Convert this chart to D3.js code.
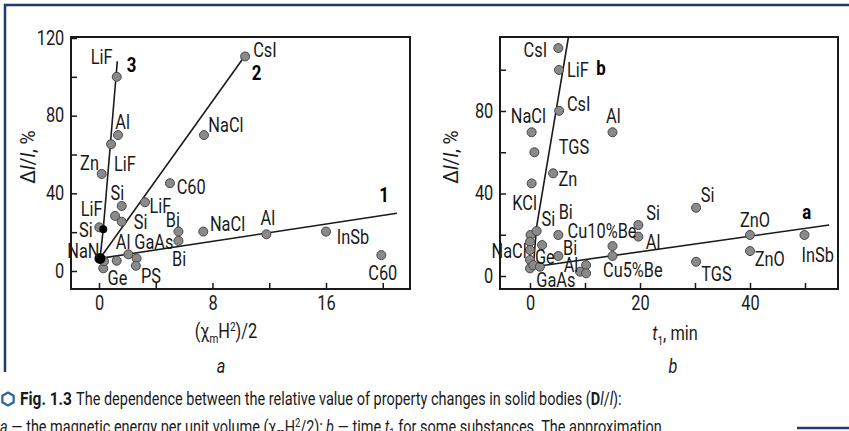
<!DOCTYPE html>
<html><head><meta charset="utf-8">
<script src="https://cdn.jsdelivr.net/npm/d3@7"></script>
<style>
html,body{margin:0;padding:0;background:#fff;}
svg{display:block;font-family:Roboto,"Liberation Sans",sans-serif;}
</style></head><body>
<svg id="c" width="849" height="431"></svg>
<script>
// ---------- panel a data ----------
const aXTicks = [0, 4, 8, 12, 16, 20];
const aXTickLabels = [0, 8, 16];
const aYTicks = [0, 20, 40, 60, 80, 100, 120];
const aYTickLabels = [0, 40, 80, 120];
const aPoints = [
  [1.25,100],[1.34,70],[0.85,65.3],[0.19,50],[10.3,110.5],[7.4,70],[5.0,45.2],
  [1.6,33.5],[3.24,35.4],[1.13,28.4],[1.6,25.4],[0.02,22.5],[5.6,20.3],[5.6,15.5],
  [7.35,20.3],[11.8,18.9],[2.07,8.6],[2.65,6.5],[1.25,5.3],[2.6,2.7],[0.3,1.4],
  [0.35,5],[16.0,20.3],[19.9,8.2]
];
const aBlackPoints = [[0.3,21.5],[0.07,6.5]];
const aLine1 = [[0.07,6.5],[21,29.7]];
const aLine2 = [[0.07,6.5],[10.2,110]];
const aLine3 = [[0.07,6.5],[0.3,21.5],[1.29,108]];
const aLabels = [
  ["LiF",0.19,110],["CsI",11.7,113.9],["Al",1.66,77],["NaCl",8.95,75.3],["Zn",-0.67,55.4],
  ["LiF",1.83,55],["Si",1.3,40.2],["C60",6.5,43.5],["LiF",-0.52,32],["LiF",4.33,33.5],
  ["Bi",5.2,26.3],["Si",2.94,25],["Si",-0.92,20.9],["NaCl",9.06,24.2],["Al",11.9,27.3],
  ["NaN",-1.1,10.3],["Al",1.7,14.7],["GaAs",3.87,15.2],["Bi",5.64,6.2],["Ge",1.3,-3.6],
  ["PS",3.66,-2.8],["InSb",17.9,17.3],["C60",20.0,-0.8]
];
const aNumbers = [["3",2.3,106.2],["2",11.1,101.9],["1",20.1,39.2]];

// ---------- panel b data ----------
const bXTicks = [0, 10, 20, 30, 40, 50];
const bXTickLabels = [0, 20, 40];
const bYTicks = [0, 20, 40, 60, 80, 100];
const bYTickLabels = [0, 40, 80];
const bPoints = [
  [5.15,110.5],[5.27,99.9],[5.3,80.1],[0.3,69.7],[15,69.7],[0.8,60],[4.2,49.8],[0.3,44.9],
  [0.1,19.9],[1.2,21.8],[0.0,16.6],[2.2,15],[0.0,12.6],[5.15,19.9],[5.15,9.7],[0.0,7.8],
  [0.0,3.7],[0.6,5.3],[1.8,4.5],[9.1,2.1],[10.2,5.3],[10.2,1.3],[15,14.5],[15,9.7],
  [19.7,24.7],[19.7,19.1],[30.2,33.1],[40,19.9],[40,12.1],[30.2,6.9],[49.9,19.9]
];
const bLineA = [[0.8,4.5],[54.4,24.7]];
const bLineB = [[0.6,4.5],[1.2,23.9],[7,116]];
const bLabels = [
  ["CsI",0.97,109.6],["LiF",8.7,99.9],["CsI",8.85,83.4],["NaCl",-0.3,77.4],["Al",15.15,77.4],
  ["TGS",8.0,62.7],["Zn",6.9,47],["KCl",-0.97,35.6],["Si",3.33,27.6],["Bi",6.5,31.2],
  ["Cu10%Be",13.1,21.8],["NaCl",-3.8,12.1],["Ge",2.7,9],["Bi",7.3,13.6],["Al",7.45,5.3],
  ["GaAs",4.7,-1.9],["Cu5%Be",18.7,2.9],["Si",32.3,39.3],["Si",22.4,30.5],["Al",22.4,16.6],
  ["ZnO",40.9,27.2],["ZnO",43.6,8.2],["InSb",52.3,10.2],["TGS",33.9,1]
];
const bNumbers = [["b",12.9,101.1],["a",50.3,31.2]];

// ---------- drawing ----------
const svg = d3.select("#c");
const INK = "#1a1a1a";
const SX = 0.84;
const FS = 19.5;
const NAVY = "#1d3b6e";

function panel(cfg){
  const g = svg.append("g");
  const x = d3.scaleLinear().domain(cfg.xd).range(cfg.xr);
  const y = d3.scaleLinear().domain(cfg.yd).range(cfg.yr);
  const f = cfg.frame;
  const ax = g.append("g").attr("transform",`translate(0,${f.b})`)
    .call(d3.axisBottom(x).tickValues(cfg.xt).tickSize(-6).tickPadding(7)
      .tickFormat(d => cfg.xl.includes(d) ? d : ""));
  const ay = g.append("g").attr("transform",`translate(${f.l},0)`)
    .call(d3.axisLeft(y).tickValues(cfg.yt).tickSize(-6).tickPadding(8)
      .tickFormat(d => cfg.yl.includes(d) ? d : ""));
  [ax, ay].forEach(a => {
    a.select(".domain").remove();
    a.selectAll(".tick line").attr("stroke",INK).attr("stroke-width",1.5);
    a.selectAll(".tick text").attr("fill",INK).attr("font-size",FS)
      .attr("font-family","Roboto").attr("transform",`scale(${SX},1)`);
  });
  g.append("rect").attr("x",f.l).attr("y",f.t).attr("width",f.r-f.l).attr("height",f.b-f.t)
    .attr("fill","none").attr("stroke",INK).attr("stroke-width",2);
  const line = d3.line().x(d=>x(d[0])).y(d=>y(d[1]));
  cfg.lines.forEach(L => g.append("path").attr("d",line(L)).attr("fill","none")
    .attr("stroke",INK).attr("stroke-width",1.6));
  g.selectAll("circle.p").data(cfg.pts).enter().append("circle")
    .attr("cx",d=>x(d[0])).attr("cy",d=>y(d[1])).attr("r",4.5)
    .attr("fill","#8a8a8a").attr("stroke","#474747").attr("stroke-width",1);
  if (cfg.black) g.selectAll("circle.b").data(cfg.black).enter().append("circle")
    .attr("cx",d=>x(d[0])).attr("cy",d=>y(d[1])).attr("r",(d,i)=>i===0?4:5.5)
    .attr("fill","#000");
  g.selectAll("text.lab").data(cfg.labels).enter().append("text")
    .attr("transform",d=>`translate(${x(d[1])},${y(d[2])}) scale(${SX},1)`)
    .attr("text-anchor","middle").attr("dy","0.36em").attr("font-size",FS)
    .attr("fill",INK).text(d=>d[0]);
  g.selectAll("text.num").data(cfg.nums).enter().append("text")
    .attr("transform",d=>`translate(${x(d[1])},${y(d[2])}) scale(${SX},1)`)
    .attr("text-anchor","middle").attr("dy","0.36em").attr("font-size",20)
    .attr("font-weight","bold").attr("fill","#000").text(d=>d[0]);
  return g;
}

panel({
  xd:[0,16], xr:[99,326], yd:[0,120], yr:[271,38],
  frame:{l:71,r:410,t:37,b:289},
  xt:aXTicks, xl:aXTickLabels, yt:aYTicks, yl:aYTickLabels,
  lines:[aLine1,aLine2,aLine3], pts:aPoints, black:aBlackPoints,
  labels:aLabels, nums:aNumbers
});
panel({
  xd:[0,40], xr:[530,750], yd:[0,80], yr:[276,111],
  frame:{l:500,r:838,t:37,b:289},
  xt:bXTicks, xl:bXTickLabels, yt:bYTicks, yl:bYTickLabels,
  lines:[bLineA,bLineB], pts:bPoints, black:null,
  labels:bLabels, nums:bNumbers
});

function yTitle(cx, cy){
  const t = svg.append("text").attr("transform",`translate(${cx},${cy}) rotate(-90) scale(0.92,1)`)
    .attr("text-anchor","middle").attr("dy","0.36em").attr("font-size",21).attr("fill",INK);
  t.append("tspan").text("Δ");
  t.append("tspan").attr("font-style","italic").text("l");
  t.append("tspan").text("/");
  t.append("tspan").attr("font-style","italic").text("l");
  t.append("tspan").text(", %");
}
yTitle(27,157);
yTitle(450,157);

const xa = svg.append("text").attr("transform",`translate(226,331) scale(${SX},1)`)
  .attr("text-anchor","middle").attr("dy","0.36em").attr("font-size",FS).attr("fill",INK);
xa.append("tspan").text("(χ");
xa.append("tspan").attr("font-size",12).attr("dy","5").text("m");
xa.append("tspan").attr("dy","-5").text("H");
xa.append("tspan").attr("font-size",12).attr("dy","-7").text("2");
xa.append("tspan").attr("dy","7").text(")/2");

const xb = svg.append("text").attr("transform",`translate(675,333) scale(${SX},1)`)
  .attr("text-anchor","middle").attr("dy","0.36em").attr("font-size",FS).attr("fill",INK);
xb.append("tspan").attr("font-style","italic").text("t");
xb.append("tspan").attr("font-size",12).attr("dy","5").text("1");
xb.append("tspan").attr("dy","-5").text(", min");

svg.append("text").attr("transform",`translate(221,366) scale(${SX},1)`).attr("text-anchor","middle")
  .attr("dy","0.36em").attr("font-size",FS).attr("font-style","italic").attr("fill",INK).text("a");
svg.append("text").attr("transform",`translate(673,366) scale(${SX},1)`).attr("text-anchor","middle")
  .attr("dy","0.36em").attr("font-size",FS).attr("font-style","italic").attr("fill",INK).text("b");

svg.append("line").attr("x1",4).attr("x2",849).attr("y1",5).attr("y2",5).attr("stroke",NAVY).attr("stroke-width",2.5);
svg.append("line").attr("x1",5).attr("x2",5).attr("y1",4).attr("y2",372).attr("stroke",NAVY).attr("stroke-width",2.5);
svg.append("line").attr("x1",797).attr("x2",849).attr("y1",428).attr("y2",428).attr("stroke",NAVY).attr("stroke-width",2.5);

const hexR = 6.5, hx = 8, hy = 399;
const hexPts = d3.range(6).map(i => { const a = Math.PI/3*i - Math.PI/2; return [hx+hexR*Math.cos(a), hy+hexR*Math.sin(a)]; });
svg.append("path").attr("d","M"+hexPts.map(p=>p.join(",")).join("L")+"Z")
  .attr("fill","none").attr("stroke","#2b62a8").attr("stroke-width",2.2);

// caption lines: scaled horizontally to the reference widths
function fitText(t, x, y, w){
  const len = t.node().getComputedTextLength();
  t.attr("transform",`translate(${x},${y}) scale(${w/len},1)`);
}
const cf = svg.append("text").attr("font-size",18.5).attr("font-weight","bold").attr("fill",INK).text("Fig. 1.3");
fitText(cf, 20, 405, 52);
const c1 = svg.append("text").attr("font-size",18.5).attr("fill",INK);
c1.append("tspan").text("The dependence between the relative value of property changes in solid bodies (");
c1.append("tspan").attr("font-weight","bold").text("D");
c1.append("tspan").attr("font-style","italic").text("l");
c1.append("tspan").text("/");
c1.append("tspan").attr("font-style","italic").text("l");
c1.append("tspan").text("):");
fitText(c1, 76, 405, 546);
const c2 = svg.append("text").attr("font-size",18.5).attr("fill",INK);
c2.append("tspan").attr("font-style","italic").text("a");
c2.append("tspan").text(" — the magnetic energy per unit volume (χ");
c2.append("tspan").attr("font-size",12).attr("dy",4).text("m");
c2.append("tspan").attr("dy",-4).text("H");
c2.append("tspan").attr("font-size",12).attr("dy",-6).text("2");
c2.append("tspan").attr("dy",6).text("/2); ");
c2.append("tspan").attr("font-style","italic").text("b");
c2.append("tspan").text(" — time ");
c2.append("tspan").attr("font-style","italic").text("t");
c2.append("tspan").attr("font-size",12).attr("dy",4).text("1");
c2.append("tspan").attr("dy",-4).text(" for some substances. The approximation");
fitText(c2, 0, 433, 662);
</script>
</body></html>
